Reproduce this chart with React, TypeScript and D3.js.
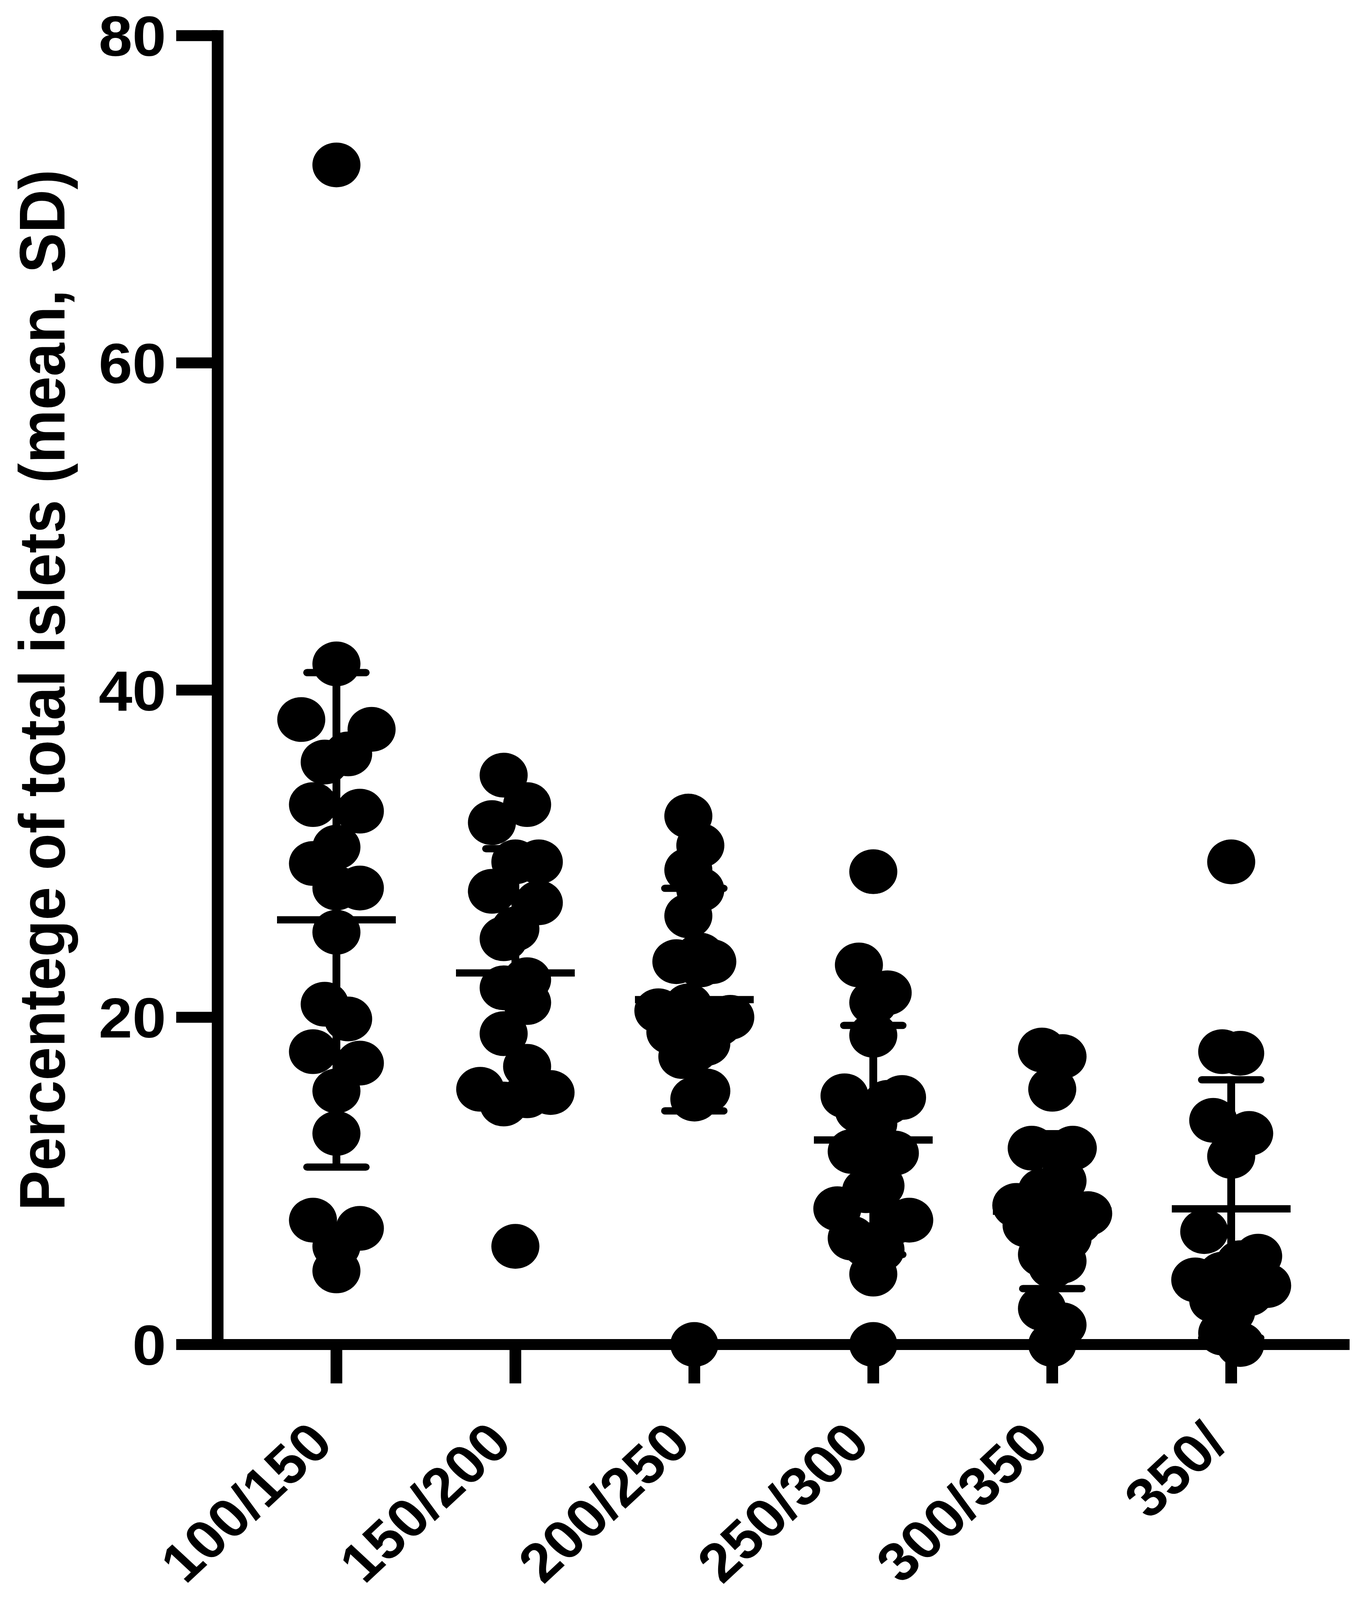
import React, { useEffect } from 'react';
import * as d3 from 'd3';

const categories = ['100/150', '150/200', '200/250', '250/300', '300/350', '350/'];

const g100 = [72.1, 41.6, 38.2, 37.6, 36.1, 35.6, 33.0, 32.6, 30.4, 29.4, 27.9, 27.9, 25.2, 20.8, 19.9, 17.9, 17.2, 15.5, 12.9, 7.6, 7.1, 6.0, 4.5];
const g150 = [34.8, 33.0, 31.9, 29.5, 29.5, 27.7, 27.0, 25.4, 24.8, 22.3, 21.8, 20.9, 19.0, 17.0, 15.6, 15.4, 15.2, 14.7, 6.0];
const g200 = [32.3, 30.5, 29.0, 27.8, 26.2, 23.8, 23.4, 23.4, 23.2, 20.7, 20.4, 20.0, 19.6, 19.1, 18.8, 18.4, 18.0, 17.6, 15.5, 15.0, 0];
const g250 = [28.9, 23.2, 21.5, 20.9, 18.9, 15.2, 15.1, 14.8, 14.3, 13.5, 11.8, 11.7, 9.7, 9.4, 8.3, 7.6, 7.5, 6.5, 6.1, 5.8, 4.3, 0];
const g300 = [18.0, 17.6, 15.6, 12.0, 12.0, 10.0, 9.4, 9.3, 8.5, 8.0, 7.5, 7.3, 7.0, 6.5, 6.0, 5.8, 5.5, 5.1, 4.8, 2.2, 1.2, 0];
const g350 = [29.5, 17.9, 17.8, 13.7, 12.9, 11.5, 6.9, 5.4, 5.0, 4.3, 3.95, 3.6, 3.1, 2.7, 2.0, 0.7, 0];

const groups = [g100, g150, g200, g250, g300, g350];
const yTicks = [0, 20, 40, 60, 80];
const yTitle = 'Percentege of total islets (mean, SD)';

const W = 3496;
const H = 4396;
const FONT = '"Liberation Sans", Arial, Helvetica, sans-serif';

// Prism-like row spreading: points whose vertical extent overlaps form a row,
// rows are spread symmetrically; spacing shrinks so the widest row fits.
function rowSwarm(ys: number[], diam: number, maxHalf: number, maxStep: number): number[] {
  const order = ys.map((_, i) => i).sort((a, b) => ys[a] - ys[b]);
  const rows: number[][] = [];
  let cur: number[] = [];
  let startY = -Infinity;
  order.forEach((i) => {
    if (cur.length && ys[i] - startY < diam) {
      cur.push(i);
    } else {
      if (cur.length) rows.push(cur);
      cur = [i];
      startY = ys[i];
    }
  });
  if (cur.length) rows.push(cur);
  const M = d3.max(rows, (r) => r.length) || 1;
  const step = M > 1 ? Math.min(maxStep, (2 * maxHalf) / (M - 1)) : maxStep;
  const out = new Array(ys.length).fill(0);
  rows.forEach((row) => {
    const n = row.length;
    const seq: number[] = [];
    let l = 0;
    let r = n - 1;
    let t = 0;
    while (l <= r) {
      if (t % 4 === 0 || t % 4 === 3) seq.push(l++);
      else seq.push(r--);
      t++;
    }
    row.forEach((idx, k) => {
      out[idx] = (seq[k] - (n - 1) / 2) * step;
    });
  });
  return out;
}

export default function App() {
  useEffect(() => {
    document.body.style.margin = '0';
    document.body.style.overflow = 'hidden';
    document.documentElement.style.overflow = 'hidden';
  }, []);

  const y = d3.scaleLinear().domain([0, 80]).range([3694, 98]);
  const x = d3.scalePoint<string>().domain(categories).range([861, 3151]);

  const axisW = 30;
  const yAxisX = 557;
  const tickLeft = 451;
  const xAxisRight = 3454;
  const xTickBottom = 3801;
  const r = 61.5;

  return (
    <svg
      viewBox={`0 0 ${W} ${H}`}
      preserveAspectRatio="none"
      style={{ display: 'block', width: '100vw', height: '100vh', background: '#fff' }}
    >
      <rect x={0} y={0} width={W} height={H} fill="#fff" />
      {/* axes */}
      <line x1={yAxisX} x2={yAxisX} y1={y(80) - axisW / 2} y2={y(0) + axisW / 2} stroke="#000" strokeWidth={axisW} />
      {yTicks.map((t) => (
        <line key={'yt' + t} x1={tickLeft} x2={yAxisX} y1={y(t)} y2={y(t)} stroke="#000" strokeWidth={axisW} />
      ))}
      <line x1={tickLeft} x2={xAxisRight} y1={y(0)} y2={y(0)} stroke="#000" strokeWidth={axisW} />
      {categories.map((c) => (
        <line key={'xt' + c} x1={x(c)!} x2={x(c)!} y1={y(0)} y2={xTickBottom} stroke="#000" strokeWidth={axisW} />
      ))}
      {yTicks.map((t) => (
        <text key={'yl' + t} x={425} y={y(t) + 155 * 0.36} textAnchor="end" fontFamily={FONT} fontWeight={700} fontSize={155} fill="#000">
          {t}
        </text>
      ))}
      {categories.map((c) => (
        <text
          key={'xl' + c}
          transform={`translate(${x(c)! - 3},3972) rotate(-45)`}
          textAnchor="end"
          fontFamily={FONT}
          fontWeight={700}
          fontSize={150}
          fill="#000"
        >
          {c}
        </text>
      ))}
      <text transform={`translate(165,${(y(0) + y(80)) / 2}) rotate(-90)`} textAnchor="middle" fontFamily={FONT} fontWeight={700} fontSize={165} fill="#000">
        {yTitle}
      </text>
      {/* error bars: mean and SD */}
      {groups.map((vals, i) => {
        const cx = x(categories[i])!;
        const m = d3.mean(vals)!;
        const s = d3.deviation(vals)!;
        return (
          <g key={'eb' + i} stroke="#000" strokeWidth={20}>
            <line x1={cx} x2={cx} y1={y(m + s)} y2={y(m - s)} />
            <line x1={cx - 75} x2={cx + 75} y1={y(m + s)} y2={y(m + s)} strokeLinecap="round" />
            <line x1={cx - 75} x2={cx + 75} y1={y(m - s)} y2={y(m - s)} strokeLinecap="round" />
            <line x1={cx - 152} x2={cx + 152} y1={y(m)} y2={y(m)} />
          </g>
        );
      })}
      {/* dots */}
      {groups.map((vals, i) => {
        const cx = x(categories[i])!;
        const ys = vals.map((v) => y(v));
        const offs = rowSwarm(ys, 2 * r, 92, 60);
        return (
          <g key={'pts' + i} fill="#000">
            {vals.map((v, j) => (
              <circle key={j} cx={cx + offs[j]} cy={ys[j]} r={r} />
            ))}
          </g>
        );
      })}
    </svg>
  );
}
